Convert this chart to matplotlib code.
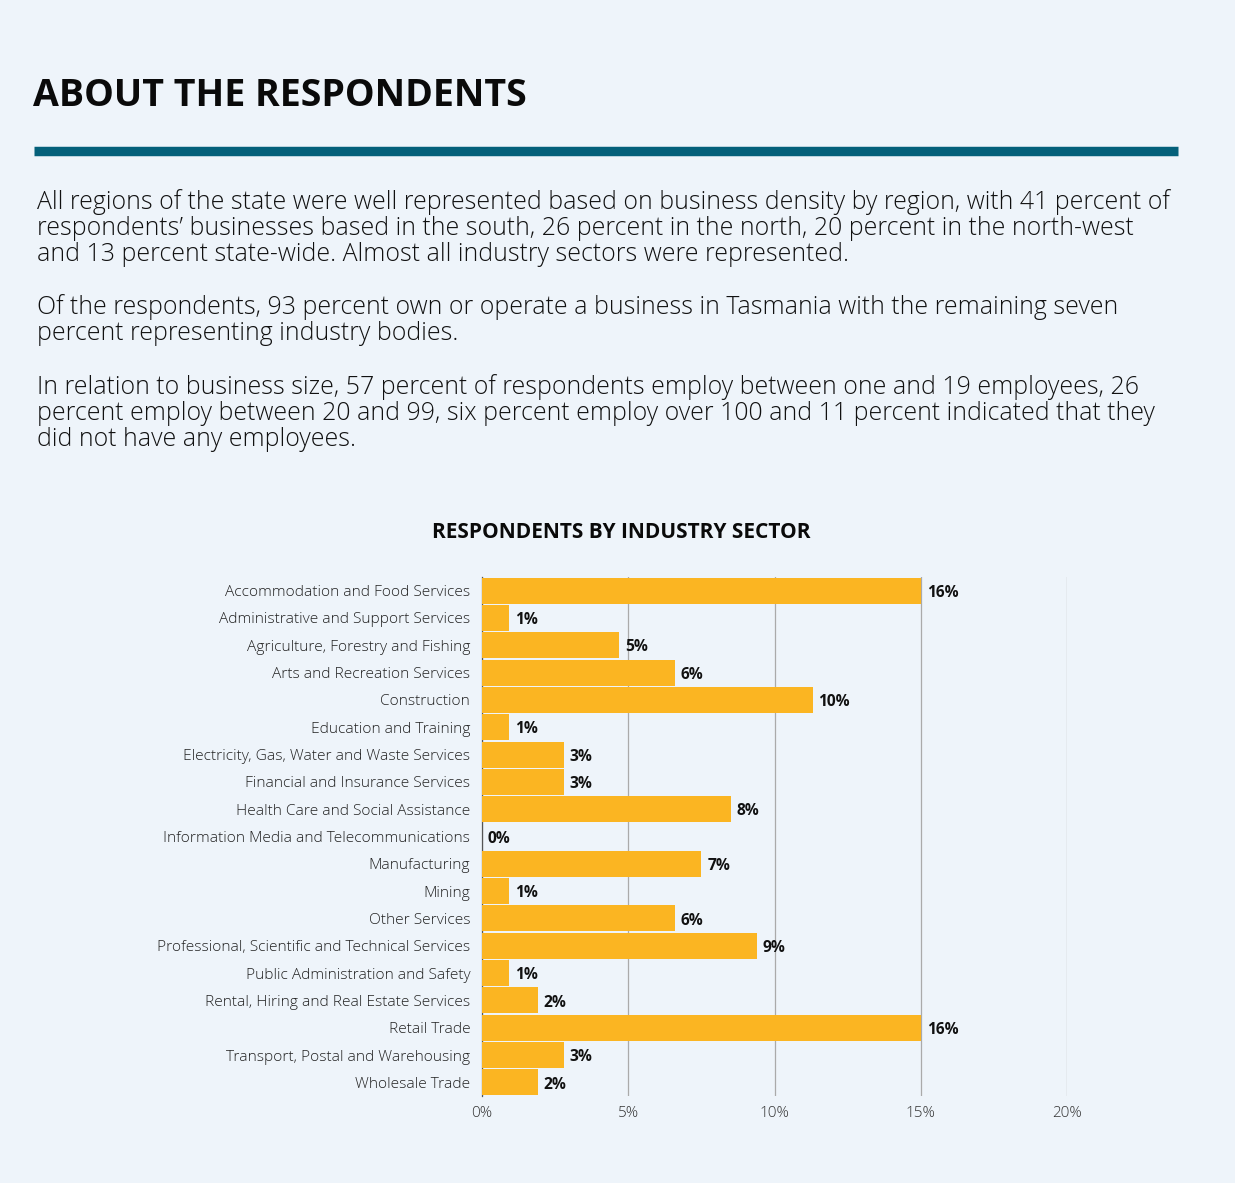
import matplotlib
matplotlib.use("Agg")
import matplotlib.pyplot as plt

# industry sectors, top to bottom
sectors = [
    "Accommodation and Food Services",
    "Administrative and Support Services",
    "Agriculture, Forestry and Fishing",
    "Arts and Recreation Services",
    "Construction",
    "Education and Training",
    "Electricity, Gas, Water and Waste Services",
    "Financial and Insurance Services",
    "Health Care and Social Assistance",
    "Information Media and Telecommunications",
    "Manufacturing",
    "Mining",
    "Other Services",
    "Professional, Scientific and Technical Services",
    "Public Administration and Safety",
    "Rental, Hiring and Real Estate Services",
    "Retail Trade",
    "Transport, Postal and Warehousing",
    "Wholesale Trade",
]
# bar lengths as drawn (percent)
bar_pct = [15.0, 0.94, 4.7, 6.6, 11.3, 0.94, 2.8, 2.8, 8.5, 0.0,
           7.5, 0.94, 6.6, 9.4, 0.94, 1.9, 15.0, 2.8, 1.9]
# printed value labels
value_labels = ["16%", "1%", "5%", "6%", "10%", "1%", "3%", "3%", "8%", "0%",
                "7%", "1%", "6%", "9%", "1%", "2%", "16%", "3%", "2%"]
x_ticks = [0, 5, 10, 15, 20]

paragraphs = [
    "All regions of the state were well represented based on business density by region, with 41 percent of\n"
    "respondents\u2019 businesses based in the south, 26 percent in the north, 20 percent in the north-west\n"
    "and 13 percent state-wide. Almost all industry sectors were represented.",
    "Of the respondents, 93 percent own or operate a business in Tasmania with the remaining seven\n"
    "percent representing industry bodies.",
    "In relation to business size, 57 percent of respondents employ between one and 19 employees, 26\n"
    "percent employ between 20 and 99, six percent employ over 100 and 11 percent indicated that they\n"
    "did not have any employees.",
]

BG = "#eef4fa"
BAR = "#fbb522"
TEAL = "#04607a"
W, H = 1235, 1183

plt.rcParams["font.family"] = ["Open Sans", "DejaVu Sans"]

fig = plt.figure(figsize=(W / 100, H / 100), dpi=100, facecolor=BG)

# heading and rule
fig.text(33 / W, 1 - 96 / H, "ABOUT THE RESPONDENTS", fontsize=27,
         fontweight="bold", color="#0a0a0a", va="center", ha="left")
fig.add_artist(plt.Line2D([34 / W, 1178 / W], [1 - 150.5 / H, 1 - 150.5 / H],
                          color=TEAL, lw=6.8, solid_capstyle="butt"))

# body paragraphs
para_tops = [189, 294, 374]
for top, txt in zip(para_tops, paragraphs):
    fig.text(37 / W, 1 - top / H, txt, fontsize=17.95, fontweight="light",
             color="#111111", va="top", ha="left", linespacing=1.06)

# chart title
fig.text(621 / W, 1 - 532 / H, "RESPONDENTS BY INDUSTRY SECTOR", fontsize=15,
         fontweight="bold", color="#0a0a0a", ha="center", va="center")

ax = fig.add_axes([482 / W, 1 - 1096 / H, (1067 - 482) / W, (1096 - 577) / H])
ax.set_facecolor(BG)
ypos = list(range(len(sectors)))
ax.barh(ypos, bar_pct, height=0.95, color=BAR, zorder=3)
for y, v, lab in zip(ypos, bar_pct, value_labels):
    ax.text(v + 0.2, y + 0.08, lab, fontsize=11.2, fontweight="bold",
            color="#111111", va="center", ha="left", zorder=4)

ax.set_xlim(0, 20)
ax.set_ylim(len(sectors) - 0.5, -0.5)
ax.set_yticks(ypos)
ax.set_yticklabels(sectors, fontsize=11.15, fontweight="light", color="#222222")
ax.set_xticks(x_ticks)
ax.set_xticklabels([f"{t}%" for t in x_ticks], fontsize=11,
                   fontweight="light", color="#333333")
ax.tick_params(axis="both", length=0)
ax.tick_params(axis="y", pad=8.5)
ax.tick_params(axis="x", pad=7)
ax.grid(axis="x", color="#aaaaaa", lw=0.9, zorder=1)
for s in ["top", "right", "bottom"]:
    ax.spines[s].set_visible(False)
ax.spines["left"].set_color("#555555")
ax.spines["left"].set_linewidth(0.9)

fig.savefig("out.png", dpi=100, facecolor=BG)
